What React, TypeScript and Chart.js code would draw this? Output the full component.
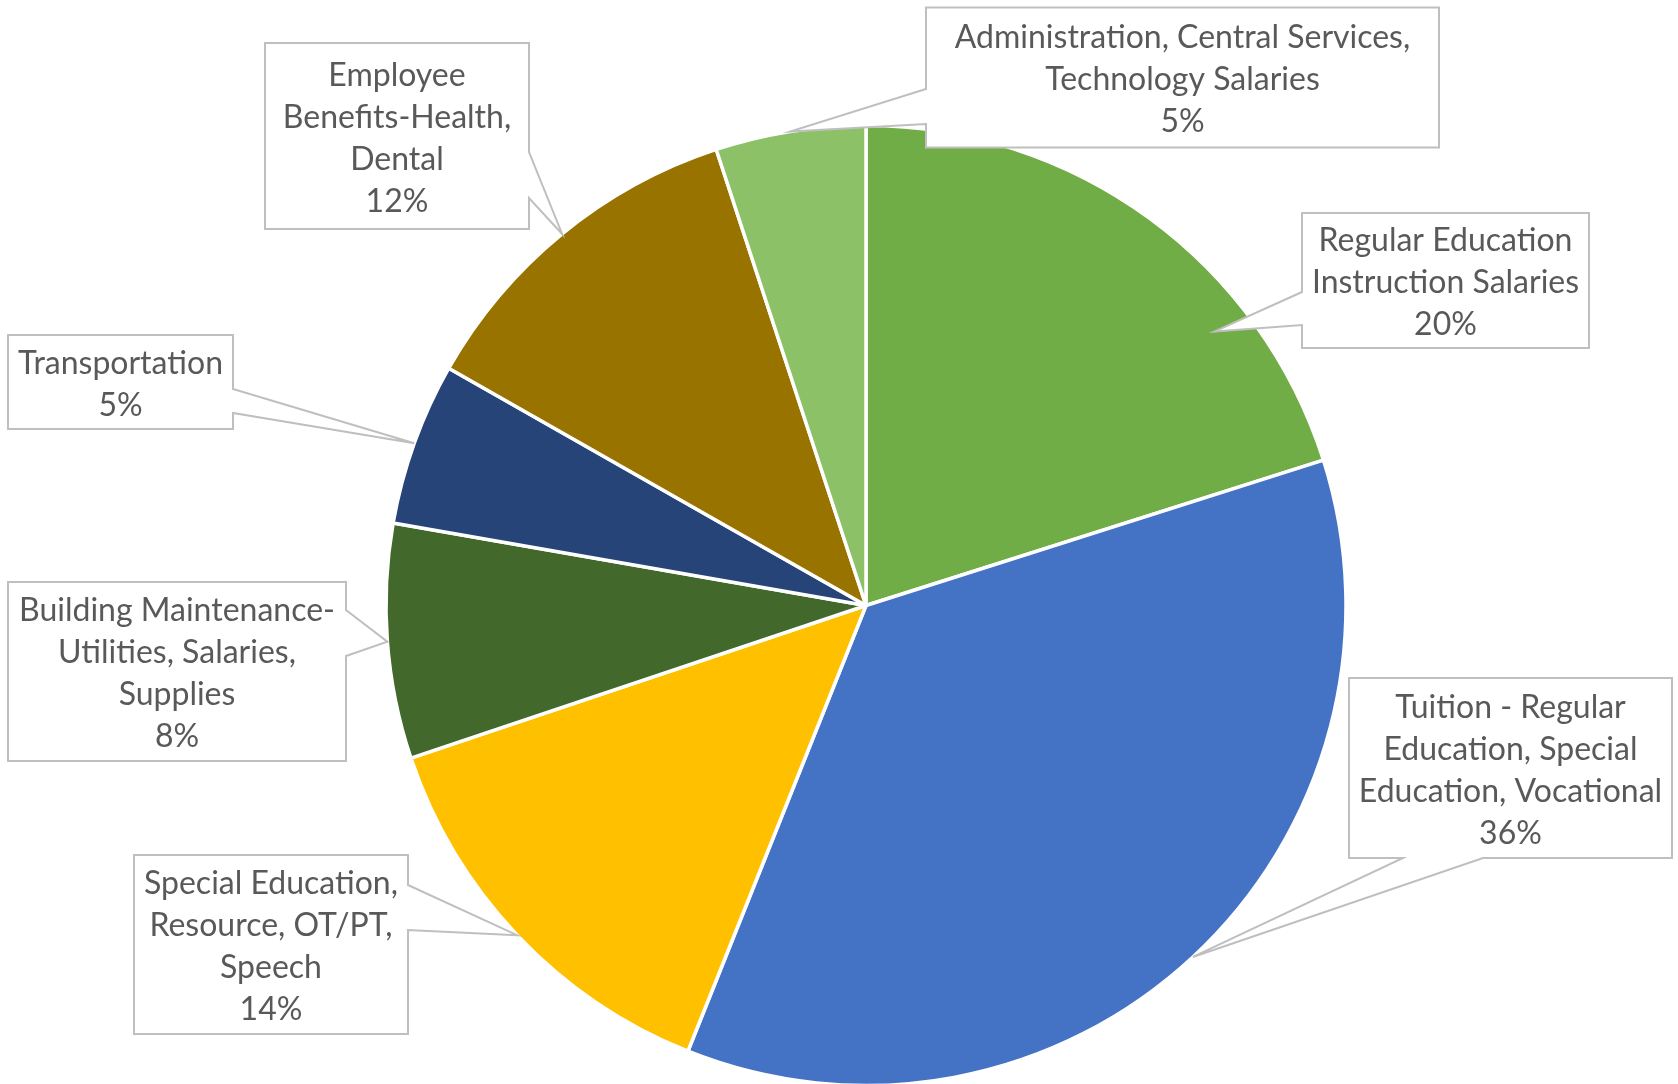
import React, { useEffect, useRef } from "react";
import { Chart, registerables } from "chart.js";

Chart.register(...registerables);

// ---- data ----
const categories: string[][] = [
  ["Regular Education", "Instruction Salaries"],
  ["Tuition - Regular", "Education, Special", "Education, Vocational"],
  ["Special Education,", "Resource, OT/PT,", "Speech"],
  ["Building Maintenance-", "Utilities, Salaries,", "Supplies"],
  ["Transportation"],
  ["Employee", "Benefits-Health,", "Dental"],
  ["Administration, Central Services,", "Technology Salaries"],
];
const values: number[] = [20.1, 35.95, 13.8, 7.9, 5.48, 11.72, 5.05];

// ---- styles ----
const sliceColors = ["#70AD47", "#4472C4", "#FFC000", "#43682B", "#264478", "#997300", "#8CC168"];
const FONT = "32px Lato";
const LINE_H = 42;
const TEXT_COLOR = "#595959";
const BOX_BORDER = "#BFBFBF";

// ---- callout layout (box x, y, w, h; wedge base on a box side; tip relative to slice) ----
type Side = "left" | "right" | "top" | "bottom";
const calloutLayout: { box: [number, number, number, number]; side: Side; a: number; b: number; t: number; r: number }[] = [
  { box: [1302, 213, 287, 135], side: "left", a: 292, b: 325, t: 0.716, r: 0.923 },
  { box: [1349, 678, 323, 180], side: "bottom", a: 1403, b: 1483, t: 0.5, r: 1.0 },
  { box: [134, 855, 274, 179], side: "right", a: 885, b: 930, t: 0.5, r: 1.0 },
  { box: [8, 582, 338, 179], side: "right", a: 610, b: 656, t: 0.5, r: 1.0 },
  { box: [8, 335, 225, 94], side: "right", a: 389, b: 413, t: 0.5, r: 1.0 },
  { box: [265, 43, 264, 186], side: "right", a: 152, b: 198, t: 0.5, r: 1.0 },
  { box: [926, 7.5, 513, 140], side: "left", a: 89, b: 124, t: 0.5, r: 1.0 },
];

const calloutPlugin = {
  id: "callouts",
  afterDatasetsDraw(chart: any) {
    const ctx: CanvasRenderingContext2D = chart.ctx;
    const meta = chart.getDatasetMeta(0);
    const data: number[] = chart.data.datasets[0].data;
    const total = data.reduce((s, v) => s + v, 0);
    meta.data.forEach((arc: any, i: number) => {
      const lay = calloutLayout[i];
      if (!lay) return;
      const p = arc.getProps(["x", "y", "startAngle", "endAngle", "outerRadius"], true);
      const ang = p.startAngle + lay.t * (p.endAngle - p.startAngle);
      const tx = p.x + Math.cos(ang) * p.outerRadius * lay.r;
      const ty = p.y + Math.sin(ang) * p.outerRadius * lay.r;
      const [bx, by, bw, bh] = lay.box;
      const L = bx, T = by, R = bx + bw, B = by + bh;
      const pts: [number, number][] = [];
      pts.push([L, T]);
      if (lay.side === "top") pts.push([lay.a, T], [tx, ty], [lay.b, T]);
      pts.push([R, T]);
      if (lay.side === "right") pts.push([R, lay.a], [tx, ty], [R, lay.b]);
      pts.push([R, B]);
      if (lay.side === "bottom") pts.push([lay.b, B], [tx, ty], [lay.a, B]);
      pts.push([L, B]);
      if (lay.side === "left") pts.push([L, lay.b], [tx, ty], [L, lay.a]);
      ctx.save();
      ctx.beginPath();
      pts.forEach(([x, y], k) => (k === 0 ? ctx.moveTo(x, y) : ctx.lineTo(x, y)));
      ctx.closePath();
      ctx.fillStyle = "#FFFFFF";
      ctx.fill();
      ctx.lineWidth = 2;
      ctx.strokeStyle = BOX_BORDER;
      ctx.lineJoin = "miter";
      ctx.stroke();

      const lines = [...(chart.data.labels[i] as string[]), Math.round((data[i] / total) * 100) + "%"];
      ctx.font = FONT;
      ctx.fillStyle = TEXT_COLOR;
      ctx.textAlign = "center";
      ctx.textBaseline = "middle";
      const startY = by + (bh - lines.length * LINE_H) / 2 + LINE_H / 2 + 2.5;
      lines.forEach((ln, k) => ctx.fillText(ln, bx + bw / 2, startY + k * LINE_H));
      ctx.restore();
    });
  },
};

export default function App() {
  const ref = useRef<HTMLCanvasElement | null>(null);
  useEffect(() => {
    if (!ref.current) return;
    const chart = new Chart(ref.current, {
      type: "pie",
      data: {
        labels: categories,
        datasets: [
          {
            data: values,
            backgroundColor: sliceColors,
            borderColor: "#FFFFFF",
            borderWidth: 3.5,
            radius: 480,
            clip: false,
          } as any,
        ],
      },
      options: {
        animation: false,
        responsive: true,
        maintainAspectRatio: false,
        devicePixelRatio: 1,
        layout: { padding: { left: 54, right: 0, top: 127, bottom: 0 } },
        plugins: {
          legend: { display: false },
          tooltip: { enabled: false },
        },
      } as any,
      plugins: [calloutPlugin],
    });
    return () => chart.destroy();
  }, []);
  return (
    <div style={{ position: "absolute", left: 0, top: 0, width: 1678, height: 1084, background: "#FFFFFF" }}>
      <canvas ref={ref} />
    </div>
  );
}
